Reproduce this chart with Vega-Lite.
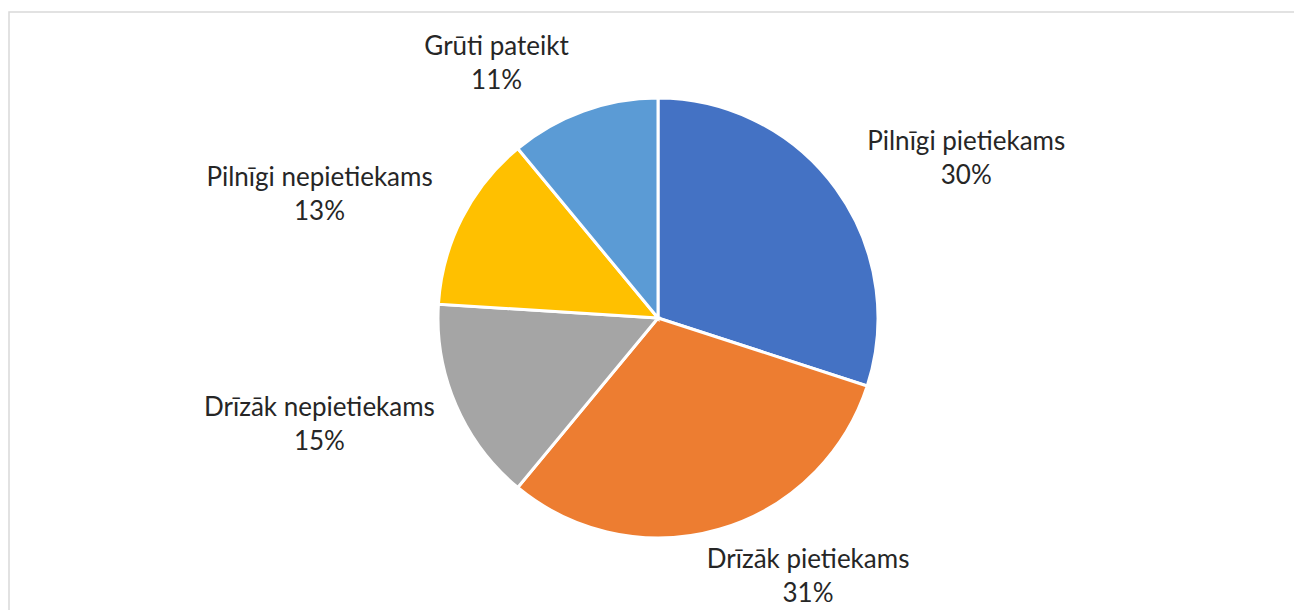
{
  "$schema": "https://vega.github.io/schema/vega-lite/v6.json",
  "autosize": {"type": "fit", "contains": "padding"},
  "width": 1294,
  "height": 610,
  "padding": {"left": 9, "top": 12, "right": -13, "bottom": -14},
  "background": "white",
  "view": {"stroke": "#D9D9D9", "strokeWidth": 1.5},
  "config": {
    "view": {"stroke": "#D9D9D9", "strokeWidth": 1.5},
    "text": {"font": "Lato", "fontSize": 26, "fill": "#262626"}
  },
  "data": {
    "values": [
      {"n": 1, "category": "Pilnīgi pietiekams", "value": 0.30},
      {"n": 2, "category": "Drīzāk pietiekams", "value": 0.31},
      {"n": 3, "category": "Drīzāk nepietiekams", "value": 0.15},
      {"n": 4, "category": "Pilnīgi nepietiekams", "value": 0.13},
      {"n": 5, "category": "Grūti pateikt", "value": 0.11}
    ]
  },
  "encoding": {
    "theta": {"field": "value", "type": "quantitative", "stack": true},
    "order": {"field": "n", "type": "quantitative"}
  },
  "layer": [
    {
      "mark": {"type": "arc", "outerRadius": 220, "stroke": "white", "strokeWidth": 3},
      "encoding": {
        "color": {
          "field": "category",
          "type": "nominal",
          "legend": null,
          "scale": {
            "domain": ["Pilnīgi pietiekams", "Drīzāk pietiekams", "Drīzāk nepietiekams", "Pilnīgi nepietiekams", "Grūti pateikt"],
            "range": ["#4472C4", "#ED7D31", "#A5A5A5", "#FFC000", "#5B9BD5"]
          }
        }
      }
    },
    {
      "mark": {
        "type": "text",
        "radius": 225,
        "align": "center",
        "baseline": "middle",
        "dx": {"expr": "(sin(PI*(datum.value_start+datum.value_end)) >= 0 ? 1 : -1) * min(1, 2.6*abs(sin(PI*(datum.value_start+datum.value_end)))) * (length(datum.category)*5.9 + 20)"},
        "dy": {"expr": "-cos(PI*(datum.value_start+datum.value_end))*45 - 17"}
      },
      "encoding": {
        "detail": {"field": "category", "type": "nominal"},
        "text": {"field": "category", "type": "nominal"}
      }
    },
    {
      "mark": {
        "type": "text",
        "radius": 225,
        "align": "center",
        "baseline": "middle",
        "dx": {"expr": "(sin(PI*(datum.value_start+datum.value_end)) >= 0 ? 1 : -1) * min(1, 2.6*abs(sin(PI*(datum.value_start+datum.value_end)))) * (length(datum.category)*5.9 + 20)"},
        "dy": {"expr": "-cos(PI*(datum.value_start+datum.value_end))*45 + 17"}
      },
      "encoding": {
        "detail": {"field": "category", "type": "nominal"},
        "text": {"field": "value", "type": "quantitative", "format": ".0%"}
      }
    }
  ]
}
